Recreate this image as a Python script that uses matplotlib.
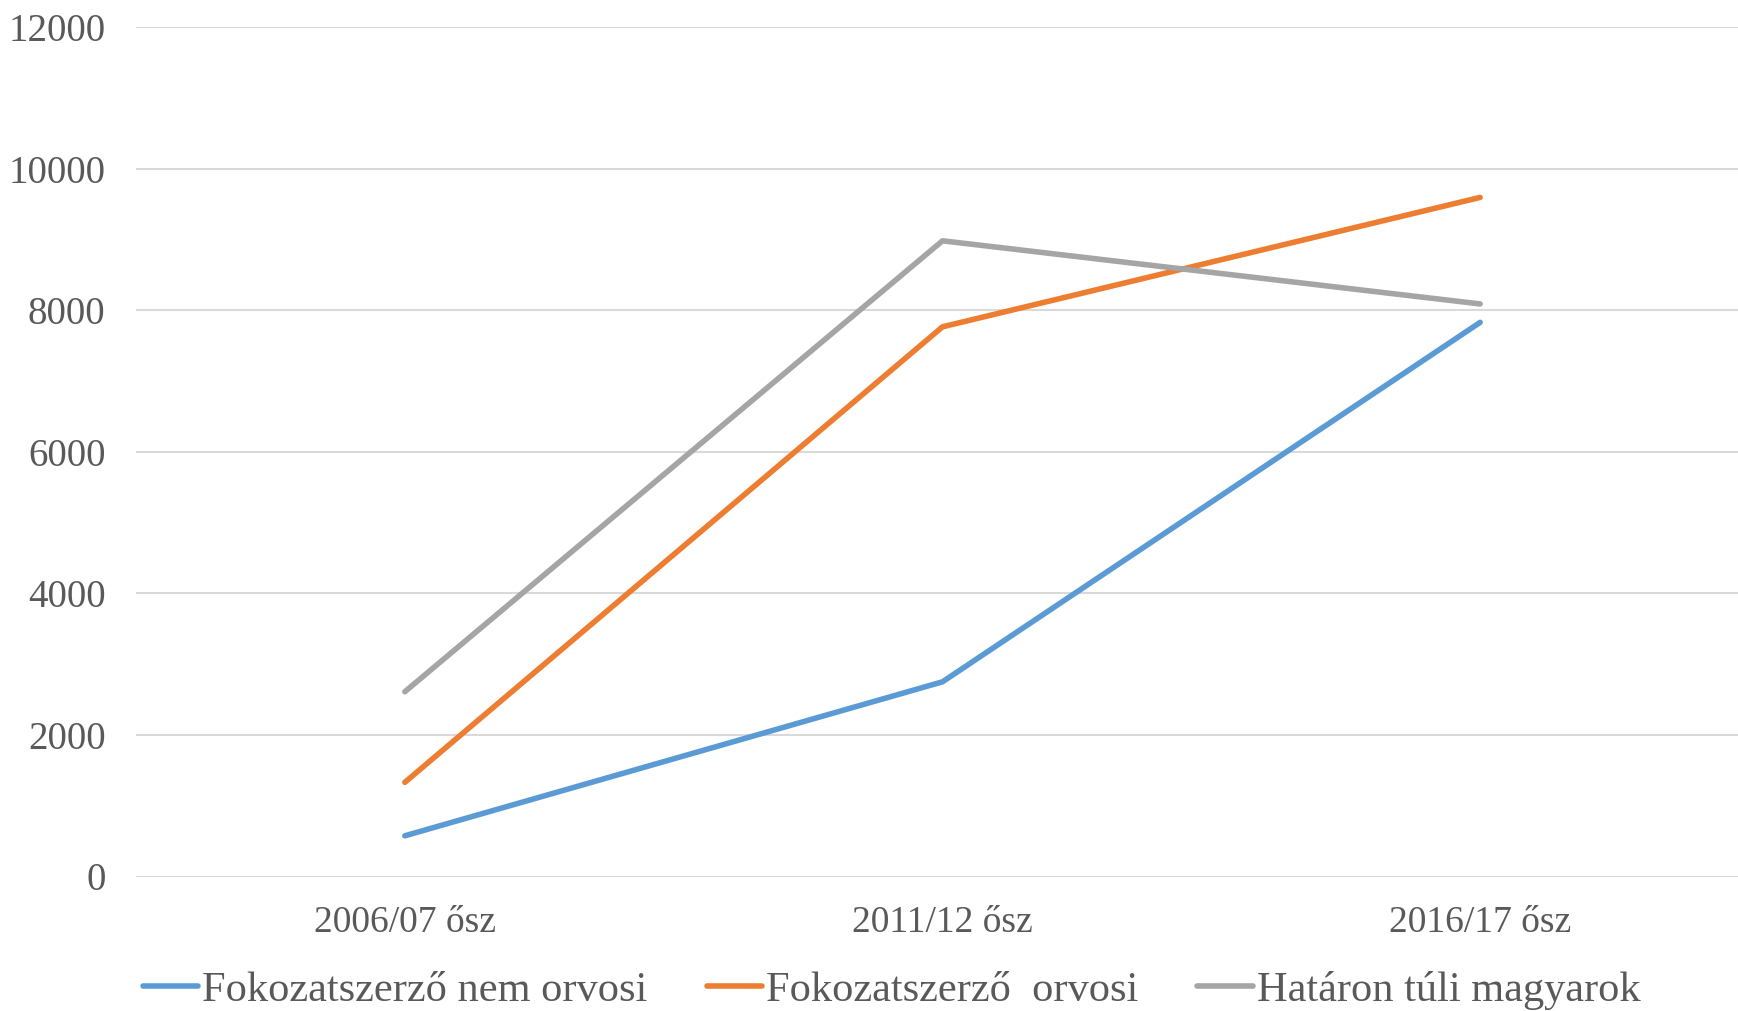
import matplotlib
matplotlib.use("Agg")
import matplotlib.pyplot as plt

categories = ["2006/07 ősz", "2011/12 ősz", "2016/17 ősz"]
series_names = ["Fokozatszerző nem orvosi", "Fokozatszerző  orvosi", "Határon túli magyarok"]
nem_orvosi = [575, 2750, 7828]
orvosi = [1330, 7765, 9593]
hataron_tuli = [2610, 8980, 8088]
colors = ["#5B9BD5", "#ED7D31", "#A5A5A5"]
yticks = [0, 2000, 4000, 6000, 8000, 10000, 12000]

plt.rcParams['font.family'] = ['Liberation Serif', 'DejaVu Serif']
txt = "#595959"

fig = plt.figure(figsize=(17.38, 10.11), dpi=100)
ax = fig.add_axes([136/1738, 134.5/1011, 1613/1738, 849.5/1011])

x = list(range(len(categories)))
for vals, name, c in zip([nem_orvosi, orvosi, hataron_tuli], series_names, colors):
    ax.plot(x, vals, color=c, lw=4.0, solid_capstyle='round', solid_joinstyle='round', label=name, zorder=3)

ax.set_xlim(-0.5, 2.5)
ax.set_ylim(0, 12000)
ax.set_yticks(yticks)
ax.set_yticklabels([str(v) for v in yticks])
ax.set_xticks(x)
ax.set_xticklabels(categories)
ax.yaxis.grid(True, color="#D9D9D9", lw=1.5)
ax.set_axisbelow(True)
for s in ax.spines.values():
    s.set_visible(False)
ax.tick_params(axis='y', length=0, pad=22, labelsize=28, labelcolor=txt)
ax.tick_params(axis='x', length=0, pad=21, labelsize=27, labelcolor=txt)

leg = fig.legend(loc='center', bbox_to_anchor=(0.513, 0.020), ncol=3, frameon=False,
                 fontsize=30.5, handlelength=1.3, handletextpad=0.1, columnspacing=1.4,
                 borderaxespad=0, borderpad=0)
for t in leg.get_texts():
    t.set_color(txt)
for h in leg.get_lines():
    h.set_linewidth(4.0)

fig.savefig("out.png", dpi=100)
